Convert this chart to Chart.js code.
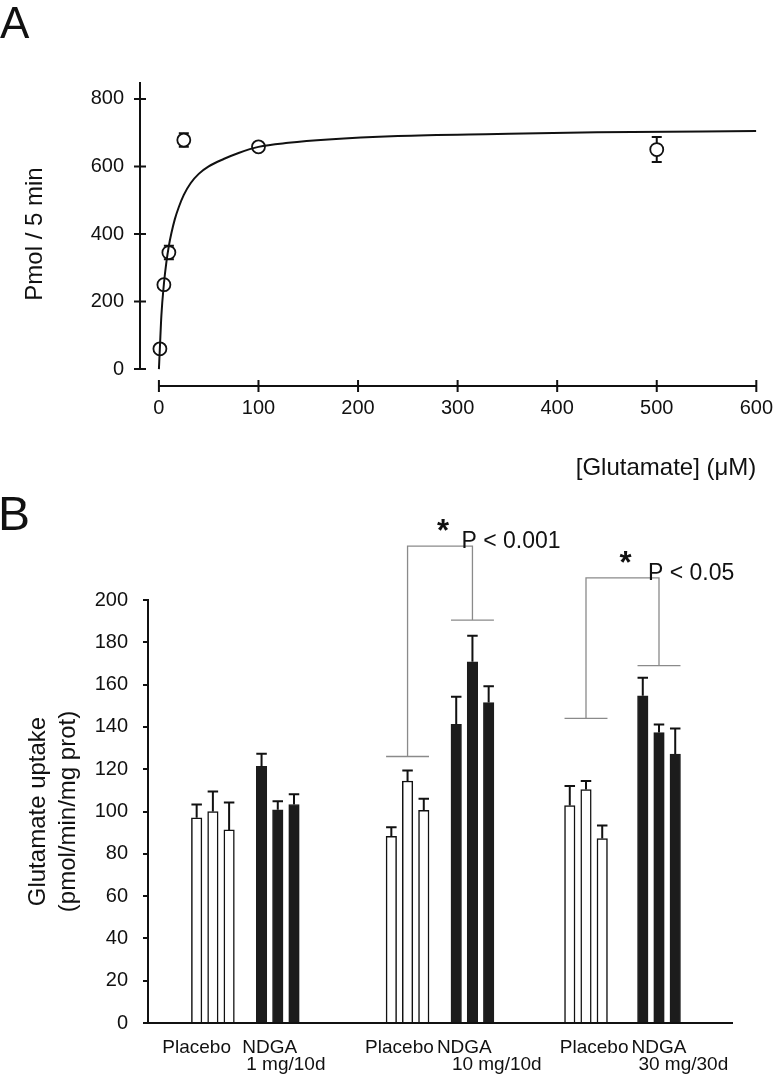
<!DOCTYPE html>
<html>
<head>
<meta charset="utf-8">
<script src="https://cdn.jsdelivr.net/npm/chart.js@4.4.1/dist/chart.umd.min.js"></script>
<style>
  html, body { margin: 0; padding: 0; background: #fff; }
  body { width: 783px; height: 1074px; position: relative; overflow: hidden; font-family: "Liberation Sans", Arial, sans-serif; }
  .panel-letter { position: absolute; line-height: 1; color: #111; }
  #chartA { position: absolute; left: 0; top: 0; }
  #chartB { position: absolute; left: 0; top: 490px; }
</style>
</head>
<body>
<canvas id="chartA" width="783" height="490"></canvas>
<canvas id="chartB" width="783" height="584"></canvas>
<div class="panel-letter" style="left:0;top:1px;font-size:44px">A</div>
<div class="panel-letter" style="left:-2px;top:490px;font-size:48px">B</div>
<script>
const FONT = '"Liberation Sans", Arial, sans-serif'
const INK = '#111'

// Painel A: captação vs concentração de glutamato
const concUM = [1, 5, 10, 25, 100, 500]
const uptakePmol = [60, 250, 345, 678, 658, 650]
const uptakeErr = [8, 8, 20, 20, 8, 37]
// curva ajustada, lida ponto a ponto na figura
const fitConc = [0, 1, 2.5, 5, 7.5, 10, 12.5, 16, 20, 25, 32, 40, 50, 65, 80, 100, 130, 170, 240, 340, 440, 600]
const fitPmol = [0, 65, 160, 252, 317, 365, 402, 444, 480, 516, 551, 578, 600, 622, 640, 658, 670, 680, 690, 696, 701, 705]
const xTicksA = [0, 100, 200, 300, 400, 500, 600]
const yTicksA = [0, 200, 400, 600, 800]

// Painel B: captação por grupo (3 animais por grupo)
const doses = ['1 mg/10d', '10 mg/10d', '30 mg/30d']
const placeboMean = [[97, 100, 91.3], [88.3, 114.4, 100.5], [102.8, 110.4, 87.2]]
const placeboSem = [[6.3, 9.5, 13], [4.3, 5, 5.5], [9.2, 4, 6.2]]
const ndgaMean = [[121.3, 100.8, 103.3], [141.2, 170.8, 151.5], [154.7, 137.3, 127.2]]
const ndgaSem = [[6, 4.1, 4.8], [13, 12.3, 7.7], [8.5, 3.8, 12.1]]
const yTicksB = [0, 20, 40, 60, 80, 100, 120, 140, 160, 180, 200]

// comparações significativas (índice do grupo, níveis dos colchetes em unidades do eixo y)
const sigGroup = [1, 2]
const sigText = ['P < 0.001', 'P < 0.05']
const sigPlaceboLevel = [126, 144]
const sigNdgaLevel = [190.5, 169]
const sigTopLevel = [225.5, 210.5]

// layout do eixo categórico do painel B (slots)
const SLOTS = 73
const BAR_STEP = 2
const placeboSlot = [6, 30, 52]
const ndgaSlot = [14, 38, 61]
const placeboLabelSlot = [6, 31, 55]
const ndgaLabelSlot = [15, 39, 63]
const doseLabelSlot = [17, 43, 66]

Chart.defaults.font.family = FONT
Chart.defaults.color = INK

// ---------- Painel A ----------
const axesA = {
  id: 'axesA',
  beforeDatasetsDraw(chart) {
    const { ctx, chartArea, scales: { x, y } } = chart
    ctx.save()
    ctx.strokeStyle = INK
    ctx.lineWidth = 2
    ctx.beginPath()
    // eixos descolados: x começa em 0, y termina em 0
    ctx.moveTo(x.getPixelForValue(xTicksA[0]), chartArea.bottom)
    ctx.lineTo(x.getPixelForValue(xTicksA[xTicksA.length - 1]), chartArea.bottom)
    xTicksA.forEach(v => {
      const px = x.getPixelForValue(v)
      ctx.moveTo(px, chartArea.bottom - 6)
      ctx.lineTo(px, chartArea.bottom + 6)
    })
    ctx.moveTo(chartArea.left, y.getPixelForValue(0))
    ctx.lineTo(chartArea.left, chartArea.top)
    yTicksA.forEach(v => {
      const py = y.getPixelForValue(v)
      ctx.moveTo(chartArea.left - 6, py)
      ctx.lineTo(chartArea.left + 6, py)
    })
    ctx.stroke()

    // barras de erro (atrás dos círculos)
    ctx.beginPath()
    concUM.forEach((c, i) => {
      const px = x.getPixelForValue(c)
      const top = y.getPixelForValue(uptakePmol[i] + uptakeErr[i])
      const bot = y.getPixelForValue(uptakePmol[i] - uptakeErr[i])
      ctx.moveTo(px, top); ctx.lineTo(px, bot)
      ctx.moveTo(px - 5, top); ctx.lineTo(px + 5, top)
      ctx.moveTo(px - 5, bot); ctx.lineTo(px + 5, bot)
    })
    ctx.stroke()
    ctx.restore()
  }
}

new Chart(document.getElementById('chartA'), {
  type: 'scatter',
  data: {
    datasets: [
      {
        label: 'fit',
        data: fitConc.map((c, i) => ({ x: c, y: fitPmol[i] })),
        showLine: true,
        borderColor: INK,
        borderWidth: 2,
        pointRadius: 0,
        cubicInterpolationMode: 'monotone'
      },
      {
        label: 'uptake',
        data: concUM.map((c, i) => ({ x: c, y: uptakePmol[i] })),
        pointRadius: 6.5,
        pointBackgroundColor: '#fff',
        pointBorderColor: INK,
        pointBorderWidth: 1.8
      }
    ]
  },
  options: {
    responsive: false,
    animation: false,
    layout: { padding: { top: 82, right: 20, left: 0, bottom: 0 } },
    plugins: { legend: { display: false }, tooltip: { enabled: false } },
    scales: {
      x: {
        type: 'linear',
        min: -19,
        max: 600,
        afterBuildTicks: s => { s.ticks = xTicksA.map(v => ({ value: v })) },
        afterFit: s => { s.height = 104 },
        grid: { display: false, drawTicks: false },
        border: { display: false },
        ticks: { padding: 10, maxRotation: 0, font: { size: 20 }, color: INK },
        title: {
          display: true,
          text: '[Glutamate] (\u03bcM)',
          align: 'end',
          color: INK,
          font: { size: 24 },
          padding: { top: 0, bottom: 7 }
        }
      },
      y: {
        min: -50,
        max: 850,
        afterBuildTicks: s => { s.ticks = yTicksA.map(v => ({ value: v })) },
        afterFit: s => { s.width = 140 },
        grid: { display: false, drawTicks: false },
        border: { display: false },
        ticks: { padding: 16, font: { size: 20 }, color: INK },
        title: {
          display: true,
          text: 'Pmol / 5 min',
          color: INK,
          font: { size: 24 },
          padding: { top: 21, bottom: 0 }
        }
      }
    }
  },
  plugins: [axesA]
})

// ---------- Painel B ----------
const placeboData = Array(SLOTS).fill(null)
const ndgaData = Array(SLOTS).fill(null)
const placeboErr = Array(SLOTS).fill(null)
const ndgaErr = Array(SLOTS).fill(null)
doses.forEach((d, g) => {
  for (let k = 0; k < 3; k++) {
    placeboData[placeboSlot[g] + k * BAR_STEP] = placeboMean[g][k]
    placeboErr[placeboSlot[g] + k * BAR_STEP] = placeboSem[g][k]
    ndgaData[ndgaSlot[g] + k * BAR_STEP] = ndgaMean[g][k]
    ndgaErr[ndgaSlot[g] + k * BAR_STEP] = ndgaSem[g][k]
  }
})
const rowLabels = Array(SLOTS).fill('')
placeboLabelSlot.forEach(s => { rowLabels[s] = 'Placebo' })
ndgaLabelSlot.forEach(s => { rowLabels[s] = 'NDGA' })
const doseLabels = Array(SLOTS).fill('')
doseLabelSlot.forEach((s, g) => { doseLabels[s] = doses[g] })

const BAR_W = 10.5

const errorBarsB = {
  id: 'errorBarsB',
  afterDatasetsDraw(chart) {
    const { ctx, scales: { y } } = chart
    ctx.save()
    ctx.strokeStyle = INK
    ctx.lineWidth = 2
    ctx.beginPath()
    chart.data.datasets.forEach((ds, di) => {
      const meta = chart.getDatasetMeta(di)
      ds.data.forEach((v, i) => {
        if (v === null) return
        const px = meta.data[i].x
        const top = y.getPixelForValue(v + ds.errors[i])
        ctx.moveTo(px, y.getPixelForValue(v))
        ctx.lineTo(px, top)
        ctx.moveTo(px - BAR_W / 2, top)
        ctx.lineTo(px + BAR_W / 2, top)
      })
    })
    ctx.stroke()
    ctx.restore()
  }
}

const bracketsB = {
  id: 'bracketsB',
  afterDraw(chart) {
    const { ctx, scales: { x, y } } = chart
    ctx.save()
    sigGroup.forEach((g, i) => {
      const pFirst = x.getPixelForValue(placeboSlot[g])
      const pMid = x.getPixelForValue(placeboSlot[g] + BAR_STEP)
      const pLast = x.getPixelForValue(placeboSlot[g] + 2 * BAR_STEP)
      const nFirst = x.getPixelForValue(ndgaSlot[g])
      const nMid = x.getPixelForValue(ndgaSlot[g] + BAR_STEP)
      const nLast = x.getPixelForValue(ndgaSlot[g] + 2 * BAR_STEP)
      const yP = y.getPixelForValue(sigPlaceboLevel[i])
      const yN = y.getPixelForValue(sigNdgaLevel[i])
      const yT = y.getPixelForValue(sigTopLevel[i])

      ctx.strokeStyle = '#8a8a8a'
      ctx.lineWidth = 1.3
      ctx.beginPath()
      ctx.moveTo(pFirst - BAR_W / 2, yP); ctx.lineTo(pLast + BAR_W / 2, yP)
      ctx.moveTo(pMid, yP); ctx.lineTo(pMid, yT); ctx.lineTo(nMid, yT); ctx.lineTo(nMid, yN)
      ctx.moveTo(nFirst - BAR_W / 2, yN); ctx.lineTo(nLast + BAR_W / 2, yN)
      ctx.stroke()

      ctx.fillStyle = INK
      ctx.textAlign = 'center'
      ctx.textBaseline = 'alphabetic'
      ctx.font = 'bold 31px ' + FONT
      ctx.fillText('*', (pMid + nMid) / 2 + 3, yT - 22 + 17)
      ctx.textAlign = 'left'
      ctx.font = '23px ' + FONT
      ctx.fillText(sigText[i], nMid - 11, yT + 2)
    })
    ctx.restore()
  }
}

new Chart(document.getElementById('chartB'), {
  type: 'bar',
  data: {
    labels: rowLabels.map((_, i) => String(i)),
    datasets: [
      {
        label: 'Placebo',
        data: placeboData,
        errors: placeboErr,
        backgroundColor: '#fff',
        borderColor: INK,
        borderWidth: 1.5,
        barThickness: BAR_W,
        grouped: false
      },
      {
        label: 'NDGA',
        data: ndgaData,
        errors: ndgaErr,
        backgroundColor: '#1c1c1c',
        borderColor: '#1c1c1c',
        borderWidth: 1,
        barThickness: BAR_W,
        grouped: false
      }
    ]
  },
  options: {
    responsive: false,
    animation: false,
    layout: { padding: { top: 110, right: 51, left: 0, bottom: 0 } },
    plugins: { legend: { display: false }, tooltip: { enabled: false } },
    scales: {
      x: {
        type: 'category',
        offset: false,
        weight: 0,
        afterFit: s => { s.height = 33 },
        grid: { display: false, drawTicks: false },
        border: { display: true, color: INK, width: 2 },
        ticks: {
          autoSkip: false, maxRotation: 0, minRotation: 0,
          padding: 13, font: { size: 19 }, color: INK,
          callback: (v, i) => rowLabels[i]
        }
      },
      x2: {
        type: 'category',
        position: 'bottom',
        offset: false,
        weight: 1,
        afterFit: s => { s.height = 18 },
        grid: { display: false, drawTicks: false },
        border: { display: false },
        ticks: {
          autoSkip: false, maxRotation: 0, minRotation: 0,
          padding: -3, font: { size: 19 }, color: INK,
          callback: (v, i) => doseLabels[i]
        }
      },
      y: {
        min: 0,
        max: 200,
        afterBuildTicks: s => { s.ticks = yTicksB.map(v => ({ value: v })) },
        afterFit: s => { s.width = 148 },
        grid: { display: true, drawOnChartArea: false, drawTicks: true, tickLength: 5, color: INK, lineWidth: 2 },
        border: { display: true, color: INK, width: 2 },
        ticks: { padding: 15, font: { size: 20 }, color: INK },
        title: {
          display: true,
          text: ['Glutamate uptake', '(pmol/min/mg prot)'],
          color: INK,
          font: { size: 24, lineHeight: 1.25 },
          padding: { top: 23, bottom: 0 }
        }
      }
    }
  },
  plugins: [errorBarsB, bracketsB]
})
</script>
</body>
</html>
